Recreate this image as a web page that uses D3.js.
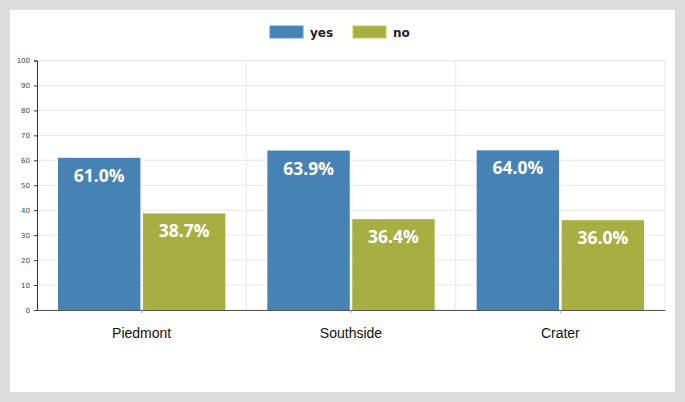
<!DOCTYPE html>
<html>
<head>
<meta charset="utf-8">
<script src="https://cdn.jsdelivr.net/npm/d3@7"></script>
<style>
  html, body { margin: 0; padding: 0; background: #dcdcdc; }
  svg { display: block; }
</style>
</head>
<body>
<svg id="chart" width="685" height="402"></svg>
<script>
// data
var regions = ["Piedmont", "Southside", "Crater"];
var seriesNames = ["yes", "no"];
var yesValues = [61.0, 63.9, 64.0];
var noValues = [38.7, 36.4, 36.0];
var yTicks = [0, 10, 20, 30, 40, 50, 60, 70, 80, 90, 100];
var colors = ["#4682b4", "#a8af42"];

// note: "top" is taken by window.top, so plot edges get their own names
var plotLeft = 37, plotRight = 665, plotTop = 60.5, plotBottom = 310;

var svg = d3.select("#chart");

// white panel
svg.append("rect")
  .attr("x", 10).attr("y", 10)
  .attr("width", 665).attr("height", 382)
  .attr("fill", "#fff");

var xScale = d3.scaleBand().domain(regions).range([plotLeft, plotRight]);
var inner = d3.scaleBand().domain(seriesNames)
  .range([21, xScale.bandwidth() - 21]).paddingInner(0.03);
var yScale = d3.scaleLinear().domain([0, 100]).range([plotBottom, plotTop]);

// horizontal grid
svg.append("g").selectAll("line").data(yTicks).enter()
  .append("line")
  .attr("x1", plotLeft).attr("x2", plotRight)
  .attr("y1", function(d) { return yScale(d); })
  .attr("y2", function(d) { return yScale(d); })
  .attr("stroke", "#e6e6e6")
  .attr("stroke-width", 1);

// vertical grid between groups + right border
svg.append("g").selectAll("line").data(regions.slice(1).concat(["end"])).enter()
  .append("line")
  .attr("x1", function(d) { return d == "end" ? plotRight : xScale(d); })
  .attr("x2", function(d) { return d == "end" ? plotRight : xScale(d); })
  .attr("y1", plotTop).attr("y2", plotBottom)
  .attr("stroke", "#e6e6e6")
  .attr("stroke-width", 1);

// bars
var rows = regions.map(function(r, i) {
  return { region: r, values: [yesValues[i], noValues[i]] };
});

var groups = svg.append("g").selectAll("g").data(rows).enter()
  .append("g")
  .attr("transform", function(d) { return "translate(" + xScale(d.region) + ",0)"; });

groups.selectAll("rect")
  .data(function(d) { return d.values.map(function(v, j) { return { name: seriesNames[j], value: v, c: colors[j] }; }); })
  .enter()
  .append("rect")
  .attr("x", function(d) { return inner(d.name); })
  .attr("y", function(d) { return yScale(d.value); })
  .attr("width", inner.bandwidth())
  .attr("height", function(d) { return plotBottom - yScale(d.value); })
  .attr("fill", function(d) { return d.c; });

groups.selectAll("text")
  .data(function(d) { return d.values.map(function(v, j) { return { name: seriesNames[j], value: v }; }); })
  .enter()
  .append("text")
  .attr("x", function(d) { return inner(d.name) + inner.bandwidth() / 2; })
  .attr("y", function(d) { return yScale(d.value) + 24; })
  .attr("text-anchor", "middle")
  .attr("fill", "#fff")
  .attr("font-family", "Open Sans")
  .attr("font-weight", "bold")
  .attr("font-size", "17.5px")
  .text(function(d) { return d.value.toFixed(1) + "%"; });

// y axis
var yAxis = d3.axisLeft(yScale).tickValues(yTicks).tickSize(3).tickPadding(4);
var yg = svg.append("g")
  .attr("transform", "translate(" + plotLeft + ",0)")
  .call(yAxis);
yg.select(".domain").attr("stroke", "#333");
yg.selectAll(".tick line").attr("stroke", "#333");
yg.selectAll("text")
  .attr("font-family", "Verdana, DejaVu Sans")
  .attr("font-size", "7px")
  .attr("fill", "#444");

// x axis
var xAxis = d3.axisBottom(xScale).tickSize(3).tickSizeOuter(0).tickPadding(15);
var xg = svg.append("g")
  .attr("transform", "translate(0," + plotBottom + ")")
  .call(xAxis);
xg.select(".domain").attr("stroke", "#555");
xg.selectAll(".tick line").attr("stroke", "#999");
xg.selectAll("text")
  .attr("font-family", "Liberation Sans, Arial")
  .attr("font-size", "14px")
  .attr("fill", "#111");

// legend
var legendX = [270, 353];
var legend = svg.append("g").selectAll("g").data(seriesNames).enter()
  .append("g")
  .attr("transform", function(d, i) { return "translate(" + legendX[i] + ",26)"; });
legend.append("rect")
  .attr("width", 33).attr("height", 12)
  .attr("fill", function(d, i) { return colors[i]; })
  .attr("stroke", function(d, i) { return d3.color(colors[i]).brighter(0.4); })
  .attr("stroke-width", 1);
legend.append("text")
  .attr("x", 40).attr("y", 10.5)
  .attr("font-family", "DejaVu Sans")
  .attr("font-weight", "bold")
  .attr("font-size", "12px")
  .attr("fill", "#222")
  .text(function(d) { return d; });
</script>
</body>
</html>
